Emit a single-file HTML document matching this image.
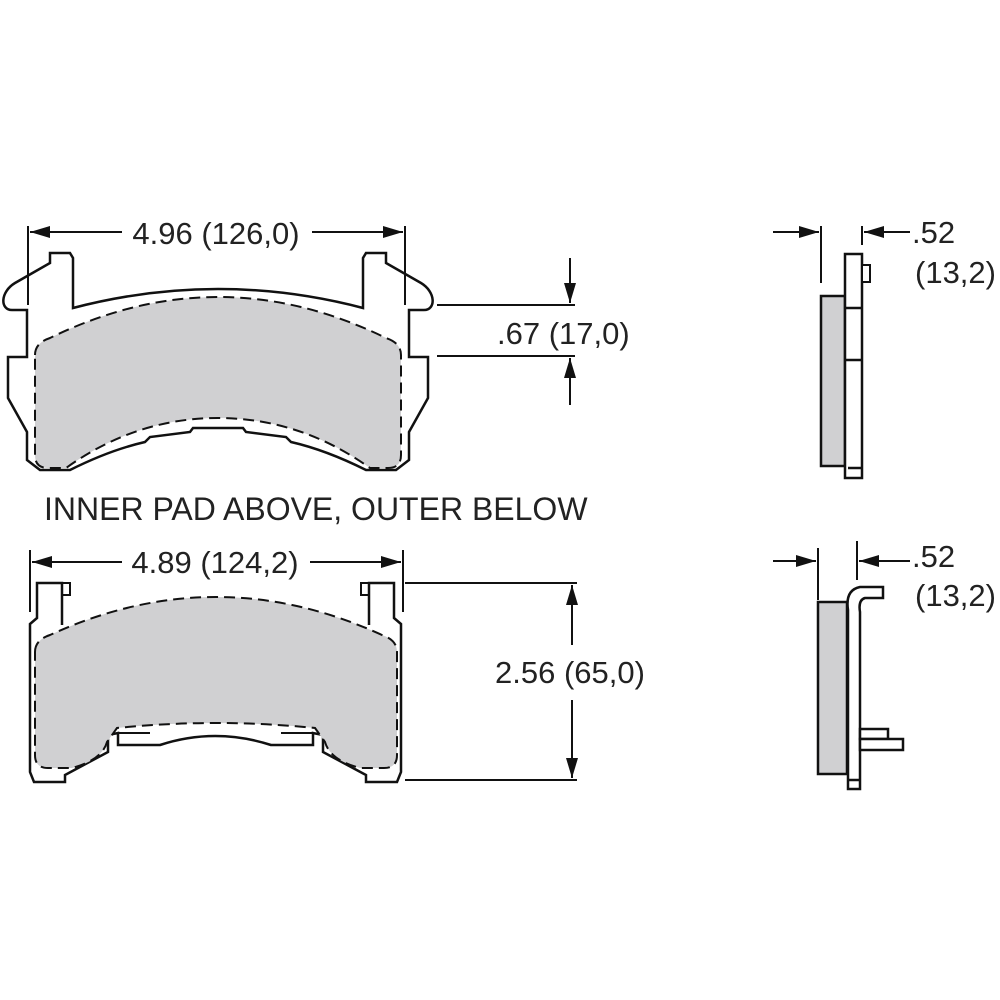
<!DOCTYPE html>
<html><head><meta charset="utf-8"><style>
html,body{margin:0;padding:0;background:#fff;}
svg{display:block}
text{font-family:"Liberation Sans",sans-serif;fill:#222;font-size:31px}
</style></head><body>
<svg width="1000" height="1000" viewBox="0 0 1000 1000" xmlns="http://www.w3.org/2000/svg">
<g stroke="#111" stroke-width="2.5" fill="none" stroke-linejoin="miter">
<!-- TOP PAD -->
<path d="M73,308 Q218,270 363,308 L363,258 L366,253 L386,253 L386,263 L421,283 C436,292 436,310 424,310 L409,310 L409,357 L428,357 L428,398 L409,432 L409,460 L396,470 L366,470 Q326,450 291,442 L286,437 L246,432 L243,428 L193,428 L190,432 L150,437 L145,442 Q110,450 70,470 L40,470 L27,460 L27,432 L8,398 L8,357 L27,357 L27,310 L12,310 C0,310 0,292 15,283 L50,263 L50,253 L70,253 L73,258 Z" fill="#fff"/>
<path d="M35,355 Q35,343 50,338 Q218,256 386,338 Q401,343 401,355 L401,455 Q401,468 388,468 L370,468 Q300,418 218,418 Q136,418 66,468 L48,468 Q35,468 35,455 Z" fill="#d0d0d2" stroke-dasharray="11,6" stroke-width="2"/>
<line x1="28" y1="226" x2="28" y2="305" stroke-width="2"/>
<line x1="405" y1="226" x2="405" y2="305" stroke-width="2"/>
<line x1="30" y1="232" x2="122" y2="232" stroke-width="2"/>
<line x1="312" y1="232" x2="403" y2="232" stroke-width="2"/>
<line x1="437" y1="305" x2="575" y2="305" stroke-width="2"/>
<line x1="437" y1="356" x2="575" y2="356" stroke-width="2"/>
<line x1="570" y1="258" x2="570" y2="303" stroke-width="2"/>
<line x1="570" y1="358" x2="570" y2="405" stroke-width="2"/>

<!-- BOTTOM PAD -->
<path d="M62,625 L62,583 L37,583 L37,618 L30,624 L30,772 L34,782 L65,782 L65,775 L108,752 L108,735 L118,733 L118,745 L160,745 Q215,727 271,745 L313,745 L313,733 L323,735 L323,752 L366,775 L366,782 L397,782 L401,772 L401,624 L394,618 L394,583 L369,583 L369,625" fill="#fff"/>
<path d="M62,583 L70,583 L70,595 L62,595 M369,583 L361,583 L361,595 L369,595 M118,733 L150,733 M281,733 L313,733" stroke-width="2"/>
<path d="M35,652 Q35,640 50,635 Q216,559 382,635 Q397,640 397,652 L397,755 Q397,768 384,768 L360,768 Q330,760 325,742 L315,728 Q216,718 117,728 L107,742 Q102,760 72,768 L48,768 Q35,768 35,755 Z" fill="#d0d0d2" stroke-dasharray="11,6" stroke-width="2"/>
<line x1="30" y1="550" x2="30" y2="612" stroke-width="2"/>
<line x1="403" y1="550" x2="403" y2="612" stroke-width="2"/>
<line x1="32" y1="562" x2="122" y2="562" stroke-width="2"/>
<line x1="310" y1="562" x2="401" y2="562" stroke-width="2"/>
<line x1="405" y1="583" x2="577" y2="583" stroke-width="2"/>
<line x1="405" y1="780" x2="577" y2="780" stroke-width="2"/>
<line x1="572" y1="585" x2="572" y2="645" stroke-width="2"/>
<line x1="572" y1="700" x2="572" y2="778" stroke-width="2"/>

<!-- SIDE TOP -->
<rect x="821" y="296" width="24" height="170" fill="#d0d0d2"/>
<rect x="845" y="254" width="17" height="224" fill="#fff"/>
<line x1="845" y1="308" x2="862" y2="308"/>
<line x1="845" y1="360" x2="862" y2="360"/>
<line x1="848" y1="468" x2="862" y2="468"/>
<rect x="862" y="265" width="8" height="17" fill="#fff" stroke-width="2"/>
<line x1="821" y1="226" x2="821" y2="283" stroke-width="2"/>
<line x1="862" y1="226" x2="862" y2="245" stroke-width="2"/>
<line x1="773" y1="232" x2="819" y2="232" stroke-width="2"/>
<line x1="864" y1="232" x2="910" y2="232" stroke-width="2"/>

<!-- SIDE BOTTOM -->
<rect x="818" y="602" width="29" height="172" fill="#d0d0d2"/>
<path d="M848,789 L848,610 Q845,590 860,587 L883,587 L883,598 L865,598 Q858,600 860,612 L860,789 Z" fill="#fff"/>
<rect x="860" y="729" width="28" height="10" fill="#fff"/>
<rect x="860" y="739" width="43" height="11" fill="#fff"/>
<line x1="848" y1="780" x2="860" y2="780"/>
<line x1="818" y1="548" x2="818" y2="600" stroke-width="2"/>
<line x1="857" y1="541" x2="857" y2="580" stroke-width="2"/>
<line x1="773" y1="561" x2="816" y2="561" stroke-width="2"/>
<line x1="859" y1="561" x2="910" y2="561" stroke-width="2"/>
</g>
<g fill="#111">
<polygon points="30,232 50,226 50,238"/>
<polygon points="403,232 383,226 383,238"/>
<polygon points="32,562 52,556 52,568"/>
<polygon points="401,562 381,556 381,568"/>
<polygon points="570,303 564,283 576,283"/>
<polygon points="570,358 564,378 576,378"/>
<polygon points="572,585 566,605 578,605"/>
<polygon points="572,778 566,758 578,758"/>
<polygon points="819,232 799,226 799,238"/>
<polygon points="864,232 884,226 884,238"/>
<polygon points="816,561 796,555 796,567"/>
<polygon points="859,561 879,555 879,567"/>
</g>
<text x="216" y="244" text-anchor="middle">4.96 (126,0)</text>
<text x="497" y="344">.67 (17,0)</text>
<text x="44" y="520" style="font-size:32px">INNER PAD ABOVE, OUTER BELOW</text>
<text x="215" y="573" text-anchor="middle">4.89 (124,2)</text>
<text x="495" y="683">2.56 (65,0)</text>
<text x="912" y="243">.52</text>
<text x="915" y="283">(13,2)</text>
<text x="912" y="567">.52</text>
<text x="915" y="606">(13,2)</text>
</svg>
</body></html>
